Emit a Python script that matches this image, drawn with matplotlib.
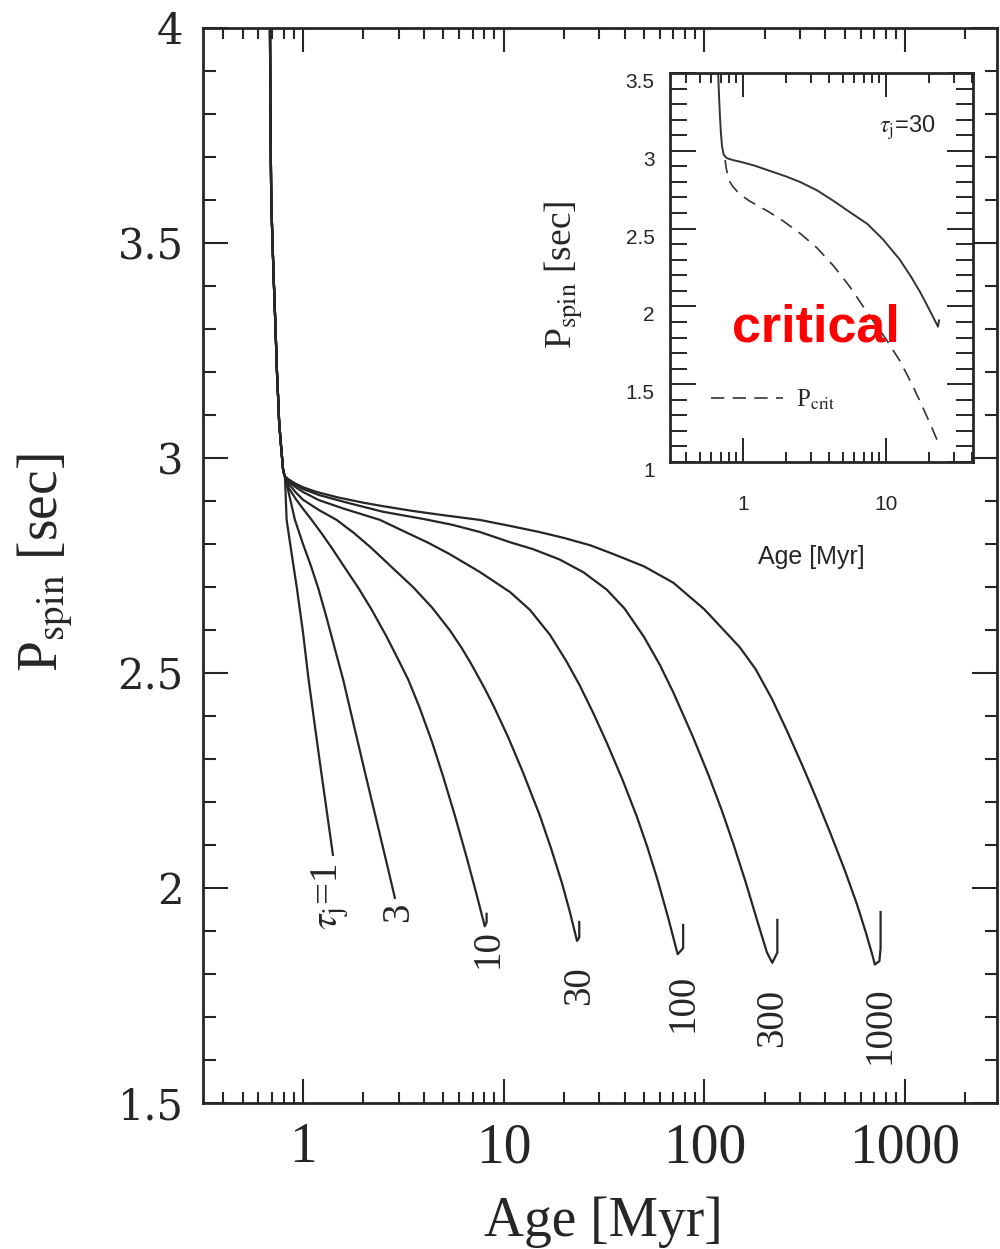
import matplotlib
matplotlib.use('Agg')
import matplotlib.pyplot as plt
from matplotlib.ticker import FixedLocator, FixedFormatter, NullFormatter, LogLocator, MultipleLocator

plt.rcParams['mathtext.fontset'] = 'stix'

# common early spin-down, shared by every tau_j track
head_age = [0.685, 0.688, 0.695, 0.705, 0.717, 0.73, 0.742, 0.752, 0.76, 0.772, 0.783, 0.795,
            0.805, 0.813]
head_p = [4.0, 3.8, 3.6, 3.5, 3.4, 3.3, 3.2, 3.14, 3.088, 3.045, 3.012, 2.975, 2.963, 2.957]

# tracks after they fan out (age in Myr, P in sec)
age_t1 = [0.813, 0.829, 0.87, 0.93, 1.0, 1.063, 1.14, 1.22, 1.31, 1.41]
p_t1 = [2.957, 2.856, 2.79, 2.701, 2.595, 2.49, 2.385, 2.285, 2.183, 2.077]

age_t3 = [0.813, 0.85, 0.912, 1.0, 1.09, 1.192, 1.3, 1.42, 1.587, 1.8, 2.08, 2.4, 2.65, 2.87]
p_t3 = [2.957, 2.918, 2.856, 2.80, 2.752, 2.697, 2.635, 2.568, 2.484, 2.375, 2.251, 2.13, 2.046,
        1.977]

age_t10 = [0.813, 0.85, 0.92, 1.0, 1.105, 1.25, 1.4, 1.6, 1.887, 2.2, 2.6, 3.0, 3.35, 3.8, 4.4,
           4.98, 5.7, 6.56, 7.3, 8.05, 8.22, 8.22]
p_t10 = [2.957, 2.93, 2.905, 2.882, 2.856, 2.822, 2.789, 2.748, 2.698, 2.647, 2.586, 2.529, 2.484,
         2.421, 2.339, 2.261, 2.170, 2.069, 1.988, 1.911, 1.92, 1.94]

age_t30 = [0.813, 0.85, 0.92, 1.0, 1.2, 1.472, 1.8, 2.2, 2.8, 3.55, 4.4, 5.4, 6.2, 6.95, 8.0, 8.85,
           10.5, 12.5, 15.1, 17.2, 19.5, 21.3, 23.2, 23.8, 23.8]
p_t30 = [2.957, 2.94, 2.92, 2.903, 2.879, 2.856, 2.825, 2.790, 2.744, 2.699, 2.652, 2.599, 2.557,
         2.518, 2.466, 2.426, 2.352, 2.268, 2.170, 2.093, 2.012, 1.947, 1.877, 1.885, 1.921]

age_t100 = [0.813, 0.85, 0.92, 1.0, 1.2, 1.6, 2.0, 2.42, 3.2, 4.2, 5.4, 7.6, 10.77, 13.5, 17.0,
            20.5, 24.0, 28.0, 32.7, 39.0, 46.0, 52.0, 58.6, 66.0, 73.6, 78.4, 78.4]
p_t100 = [2.957, 2.945, 2.932, 2.921, 2.902, 2.882, 2.868, 2.856, 2.829, 2.803, 2.776, 2.735, 2.688,
          2.647, 2.589, 2.528, 2.470, 2.406, 2.337, 2.253, 2.167, 2.095, 2.017, 1.931, 1.846, 1.86,
          1.914]

age_t300 = [0.813, 0.85, 0.92, 1.0, 1.2, 1.6, 2.5, 4.0, 5.5, 7.6, 10.77, 14.0, 19.0, 25.0, 32.6,
            40.0, 50.0, 60.0, 70.0, 87.6, 105.0, 122.0, 140.0, 160.0, 185.0, 205.0, 218.0,
            231.0, 231.0]
p_t300 = [2.957, 2.948, 2.937, 2.928, 2.914, 2.898, 2.875, 2.858, 2.845, 2.828, 2.804, 2.788, 2.764,
          2.734, 2.694, 2.65, 2.584, 2.519, 2.455, 2.352, 2.262, 2.181, 2.10, 2.016, 1.918, 1.85,
          1.826, 1.85, 1.926]

age_t1000 = [0.813, 0.85, 0.92, 1.0, 1.17, 1.5, 2.0, 2.5, 3.5, 5.0, 7.6, 10.77, 15.0, 20.0, 27.0,
             35.0, 50.0, 70.0, 100.0, 150.0, 180.0, 217.0, 260.0, 309.0, 360.0, 424.0, 500.0,
             575.0, 640.0, 690.0, 707.0, 745.0, 755.0, 755.0]
p_t1000 = [2.957, 2.95, 2.94, 2.932, 2.921, 2.908, 2.896, 2.888, 2.877, 2.867, 2.856, 2.842, 2.828,
           2.814, 2.797, 2.777, 2.748, 2.71, 2.648, 2.56, 2.509, 2.44, 2.362, 2.283, 2.21, 2.128,
           2.042, 1.963, 1.894, 1.841, 1.822, 1.83, 1.86, 1.944]

tracks = [(age_t1, p_t1), (age_t3, p_t3), (age_t10, p_t10), (age_t30, p_t30),
          (age_t100, p_t100), (age_t300, p_t300), (age_t1000, p_t1000)]

track_labels = [r'$\tau_{\rm j}$=1', '3', '10', '30', '100', '300', '1000']
label_age = [1.36, 2.98, 8.35, 23.9, 78.5, 219.0, 750.0]
label_p = [1.979, 1.944, 1.86, 1.774, 1.733, 1.698, 1.681]

xticks = [1, 10, 100, 1000]
xticklabels = ['1', '10', '100', '1000']
yticks = [1.5, 2, 2.5, 3, 3.5, 4]
yticklabels = ['1.5', '2', '2.5', '3', '3.5', '4']

# inset: tau_j = 30 track and critical period
in_age_spin = [0.67, 0.68, 0.69, 0.70, 0.713, 0.73, 0.75, 0.774, 0.85, 0.95, 1.2, 1.47, 2.0, 2.5,
               3.3, 4.26, 5.5, 7.4, 9.5, 12.5, 15.0, 17.3, 20.0, 23.1, 23.5]
in_p_spin = [3.5, 3.35, 3.22, 3.12, 3.03, 2.98, 2.963, 2.952, 2.94, 2.93, 2.905, 2.877, 2.835, 2.80,
             2.745, 2.68, 2.61, 2.53, 2.432, 2.30, 2.189, 2.093, 1.983, 1.87, 1.91]

in_age_crit = [0.75, 0.76, 0.77, 0.8, 0.84, 0.95, 1.12, 1.5, 1.9, 2.5, 3.3, 4.3, 5.6, 6.8, 8.1,
               10.0, 12.5, 15.0, 17.3, 20.5, 23.8]
in_p_crit = [2.94, 2.9, 2.87, 2.81, 2.775, 2.72, 2.675, 2.61, 2.55, 2.47, 2.375, 2.26, 2.125, 2.01,
             1.91, 1.79, 1.65, 1.51, 1.39, 1.24, 1.1]

in_xticks = [1, 10]
in_xticklabels = ['1', '10']
in_yticks = [1, 1.5, 2, 2.5, 3, 3.5]
in_yticklabels = ['1', '1.5', '2', '2.5', '3', '3.5']

ink = '#262626'

fig = plt.figure(figsize=(10, 12.49), dpi=100)
ax = fig.add_axes([0.203, 0.1169, 0.794, 0.8607])

for age, p in tracks:
    ax.plot(head_age + age, head_p + p, color=ink, lw=1.6, solid_joinstyle='round')

for txt, a, p in zip(track_labels, label_age, label_p):
    ax.text(a, p, txt, rotation=90, ha='center', va='center', fontsize=28,
            family='Liberation Serif', color=ink)

ax.set_xscale('log')
ax.set_xlim(0.3176, 2871)
ax.set_ylim(1.5, 4)
ax.xaxis.set_major_locator(FixedLocator(xticks))
ax.xaxis.set_major_formatter(FixedFormatter(xticklabels))
ax.xaxis.set_minor_locator(LogLocator(base=10, subs=range(2, 10)))
ax.xaxis.set_minor_formatter(NullFormatter())
ax.yaxis.set_major_locator(FixedLocator(yticks))
ax.yaxis.set_major_formatter(FixedFormatter(yticklabels))
ax.yaxis.set_minor_locator(MultipleLocator(0.1))

ax.tick_params(which='both', direction='in', top=True, right=True, color=ink, width=1.5)
ax.tick_params(axis='x', which='major', length=17, pad=14)
ax.tick_params(axis='x', which='minor', length=8)
ax.tick_params(axis='y', which='major', length=18, pad=14)
ax.tick_params(axis='y', which='minor', length=9)
for lbl in ax.get_xticklabels():
    lbl.set_family('Liberation Serif')
    lbl.set_fontsize(40)
    lbl.set_color(ink)
for lbl in ax.get_yticklabels():
    lbl.set_family('DejaVu Serif')
    lbl.set_fontsize(30)
    lbl.set_color(ink)
for s in ax.spines.values():
    s.set_linewidth(2)
    s.set_color(ink)

ax.set_xlabel('Age [Myr]', fontsize=40, family='Liberation Serif', color=ink)
ax.xaxis.set_label_coords(0.504, -0.1107)
ax.xaxis.label.set_va('center')
ax.set_ylabel(r'P$_{\rm spin}$ [sec]', fontsize=40, family='Liberation Serif', color=ink)
ax.yaxis.set_label_coords(-0.199, 0.503)
ax.yaxis.label.set_va('center')

# inset
axi = fig.add_axes([0.670, 0.6301, 0.303, 0.3115])
axi.plot(in_age_spin, in_p_spin, color='#333333', lw=1.4, solid_joinstyle='round')
crit, = axi.plot(in_age_crit, in_p_crit, color='#333333', lw=1.2, linestyle=(0, (8, 5)))
axi.set_xscale('log')
axi.set_xlim(0.3086, 40.6)
axi.set_ylim(1, 3.5)
axi.xaxis.set_major_locator(FixedLocator(in_xticks))
axi.xaxis.set_major_formatter(FixedFormatter(in_xticklabels))
axi.xaxis.set_minor_locator(LogLocator(base=10, subs=range(2, 10)))
axi.xaxis.set_minor_formatter(NullFormatter())
axi.yaxis.set_major_locator(FixedLocator(in_yticks))
axi.yaxis.set_major_formatter(FixedFormatter(in_yticklabels))
axi.yaxis.set_minor_locator(MultipleLocator(0.1))
axi.tick_params(which='both', direction='in', top=True, right=True, color=ink, width=1.4,
                labelsize=15, labelcolor=ink)
axi.tick_params(axis='x', which='major', length=17, pad=24)
axi.tick_params(axis='x', which='minor', length=7)
axi.tick_params(axis='y', which='major', length=19, pad=11)
axi.tick_params(axis='y', which='minor', length=12)
for lbl in axi.get_xticklabels() + axi.get_yticklabels():
    lbl.set_family('Liberation Sans')
for lbl in axi.get_yticklabels():
    lbl.set_va('top')
for s in axi.spines.values():
    s.set_linewidth(2)
    s.set_color(ink)

axi.set_xlabel('Age [Myr]', fontsize=18, family='Liberation Sans', color=ink)
axi.xaxis.set_label_coords(0.465, -0.244)
axi.xaxis.label.set_va('center')
axi.set_ylabel(r'P$_{\rm spin}$ [sec]', fontsize=27, family='Liberation Serif', color=ink)
axi.yaxis.set_label_coords(-0.35, 0.481)
axi.yaxis.label.set_va('center')

axi.text(0.784, 0.847, r'$\tau_{\rm j}$=30', transform=axi.transAxes, ha='center',
         va='baseline', fontsize=17, family='Liberation Sans', color=ink)

leg = axi.legend([crit], [r'P$_{\rm crit}$'], loc='center left', bbox_to_anchor=(0.135, 0.16),
                 frameon=False, borderpad=0, borderaxespad=0, handlelength=2.9,
                 handletextpad=0.5, prop={'family': 'Liberation Serif', 'size': 18})
for t in leg.get_texts():
    t.set_color(ink)

fig.text(0.816, 1 - 342 / 1249, 'critical', color='#ff0000', fontsize=37.5, fontweight='bold',
         family='Liberation Sans', ha='center', va='baseline')

fig.savefig('out.png', dpi=100)
